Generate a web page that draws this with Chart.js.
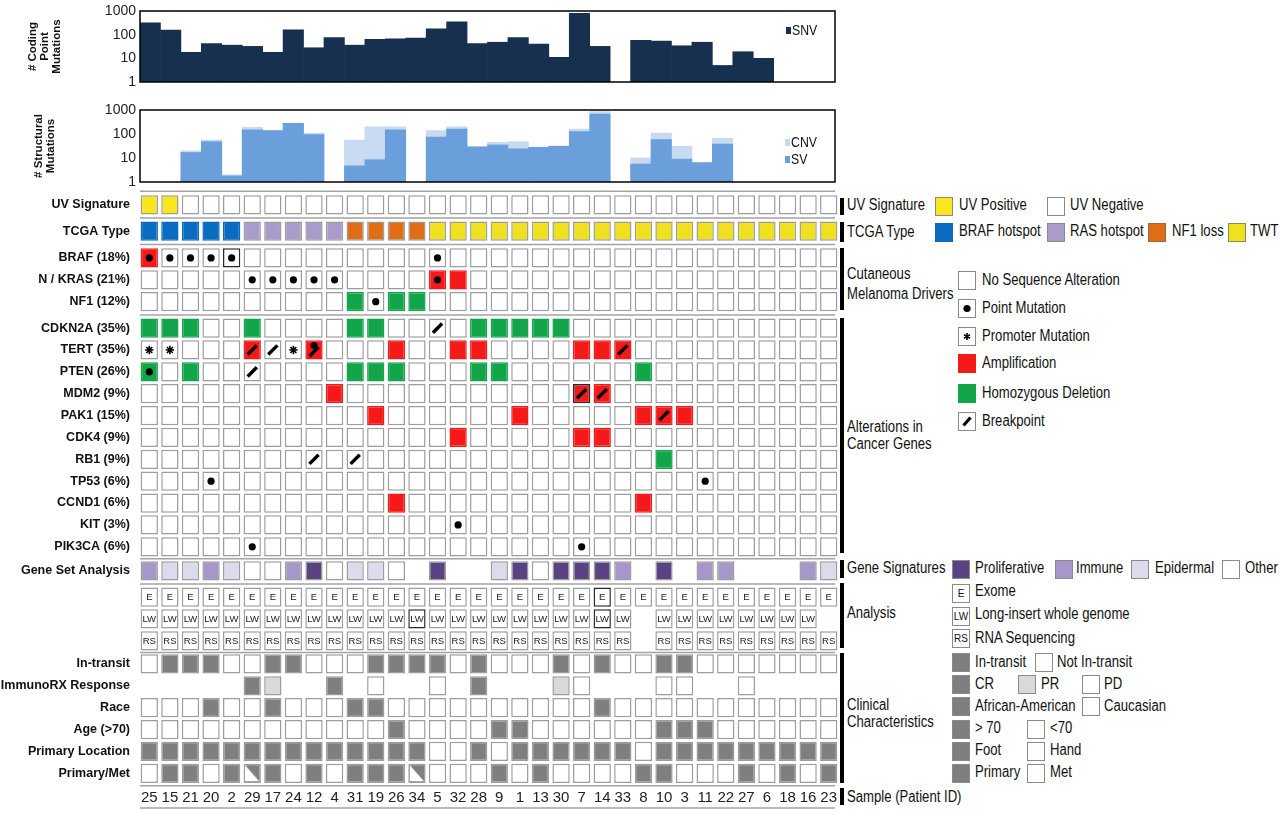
<!DOCTYPE html>
<html lang="en">
<head>
<meta charset="UTF-8" />
<title>Melanoma Genomic Landscape</title>
<script src="https://cdn.jsdelivr.net/npm/chart.js"></script>
<style>
  * { margin: 0; padding: 0; box-sizing: border-box; }
  body { width: 1280px; height: 813px; background: #fff; overflow: hidden;
    font-family: 'Liberation Sans', Arial, sans-serif; color: #111; }
  #page { position: relative; width: 1280px; height: 813px; }
  canvas { position: absolute; left: 0; }
  #snv { top: 0; }
  #sv { top: 98px; }
  #grid { top: 186px; }
  /* Arial Narrow look: regular face squeezed horizontally */
  .lg { position: absolute; font-size: 16px; line-height: 18px; white-space: nowrap;
    transform: scaleX(0.82); transform-origin: left center; }
  .vb { position: absolute; left: 840px; width: 4px; background: #000; }
  .sw { position: absolute; width: 18px; height: 19px; border: 1px solid #8a8a8a; background: #fff; }
  .sw svg { display: block; }
  .tx { position: absolute; width: 18px; height: 19px; border: 1px solid #8a8a8a; background: #fff;
    font-size: 10px; line-height: 17px; text-align: center; }
  .key { position: absolute; width: 5px; height: 7px; }
</style>
</head>
<body>
<div id="page">
  <canvas id="snv" width="840" height="92"></canvas>
  <canvas id="sv" width="840" height="94"></canvas>
  <canvas id="grid" width="840" height="627"></canvas>

  <!-- small legends inside the bar charts -->
  <div class="key" style="left:786px;top:27px;background:#17304f"></div>
  <div class="lg" style="left:792px;top:21px;font-size:15px">SNV</div>
  <div class="key" style="left:785px;top:139px;background:#c7daf2"></div>
  <div class="lg" style="left:791px;top:133px;font-size:15px">CNV</div>
  <div class="key" style="left:785px;top:156px;background:#6a9fdc"></div>
  <div class="lg" style="left:791px;top:150px;font-size:15px">SV</div>

  <!-- group bars and group labels -->
  <div class="vb" style="top:198px;height:17px"></div>
  <div class="vb" style="top:222px;height:20px"></div>
  <div class="vb" style="top:248px;height:62px"></div>
  <div class="vb" style="top:318px;height:235px"></div>
  <div class="vb" style="top:560px;height:18px"></div>
  <div class="vb" style="top:583px;height:65px"></div>
  <div class="vb" style="top:653px;height:130px"></div>
  <div class="vb" style="top:788px;height:17px"></div>

  <div class="lg" style="left:847px;top:196px">UV Signature</div>
  <div class="lg" style="left:847px;top:223px">TCGA Type</div>
  <div class="lg" style="left:847px;top:264px;line-height:20px">Cutaneous<br>Melanoma Drivers</div>
  <div class="lg" style="left:847px;top:418px;line-height:17px">Alterations in<br>Cancer Genes</div>
  <div class="lg" style="left:847px;top:559px">Gene Signatures</div>
  <div class="lg" style="left:847px;top:604px">Analysis</div>
  <div class="lg" style="left:847px;top:696px;line-height:17px">Clinical<br>Characteristics</div>
  <div class="lg" style="left:847px;top:788px">Sample (Patient ID)</div>

  <!-- UV / TCGA keys -->
  <div class="sw" style="left:935px;top:197px;background:#f7e71c"></div>
  <div class="lg" style="left:959px;top:196px">UV Positive</div>
  <div class="sw" style="left:1047px;top:197px"></div>
  <div class="lg" style="left:1070px;top:196px">UV Negative</div>
  <div class="sw" style="left:935px;top:223px;background:#0a6cc0;border-color:#0a6cc0"></div>
  <div class="lg" style="left:959px;top:222px">BRAF hotspot</div>
  <div class="sw" style="left:1047px;top:223px;background:#a99bcc"></div>
  <div class="lg" style="left:1070px;top:222px">RAS hotspot</div>
  <div class="sw" style="left:1148px;top:223px;background:#e06d14;border-color:#9a6a40"></div>
  <div class="lg" style="left:1172px;top:222px">NF1 loss</div>
  <div class="sw" style="left:1228px;top:223px;background:#f1e01d;border-color:#8a8a50"></div>
  <div class="lg" style="left:1250px;top:222px">TWT</div>

  <!-- alteration keys -->
  <div class="sw" style="left:958px;top:271px"></div>
  <div class="lg" style="left:982px;top:271px">No Sequence Alteration</div>
  <div class="sw" style="left:958px;top:299px"><svg width="16" height="17"><circle cx="8" cy="8.5" r="3.6"/></svg></div>
  <div class="lg" style="left:982px;top:299px">Point Mutation</div>
  <div class="sw" style="left:958px;top:327px"><svg width="16" height="17" stroke="#000" stroke-width="1.6"><path d="M8 5v7M5 6.7l6 3.6M5 10.3l6-3.6"/></svg></div>
  <div class="lg" style="left:982px;top:327px">Promoter Mutation</div>
  <div class="sw" style="left:958px;top:354px;background:#f41a1a;border-color:#f41a1a"></div>
  <div class="lg" style="left:982px;top:354px">Amplification</div>
  <div class="sw" style="left:958px;top:384px;background:#12a54a;border-color:#12a54a"></div>
  <div class="lg" style="left:982px;top:384px">Homozygous Deletion</div>
  <div class="sw" style="left:958px;top:412px"><svg width="16" height="17"><path d="M4.5 12.5L11.5 4.5" stroke="#000" stroke-width="3.2"/></svg></div>
  <div class="lg" style="left:982px;top:412px">Breakpoint</div>

  <!-- gene signature keys -->
  <div class="sw" style="left:952px;top:560px;background:#5a4383"></div>
  <div class="lg" style="left:975px;top:559px">Proliferative</div>
  <div class="sw" style="left:1055px;top:560px;background:#a696ca"></div>
  <div class="lg" style="left:1076px;top:559px">Immune</div>
  <div class="sw" style="left:1131px;top:560px;background:#dddaeb"></div>
  <div class="lg" style="left:1155px;top:559px">Epidermal</div>
  <div class="sw" style="left:1222px;top:560px"></div>
  <div class="lg" style="left:1245px;top:559px">Other</div>

  <!-- analysis keys -->
  <div class="tx" style="left:952px;top:584px">E</div>
  <div class="lg" style="left:975px;top:582px">Exome</div>
  <div class="tx" style="left:952px;top:607px">LW</div>
  <div class="lg" style="left:975px;top:605px">Long-insert whole genome</div>
  <div class="tx" style="left:952px;top:629px">RS</div>
  <div class="lg" style="left:975px;top:629px">RNA Sequencing</div>

  <!-- clinical keys -->
  <div class="sw" style="left:952px;top:653px;background:#7f7f7f"></div>
  <div class="lg" style="left:975px;top:653px">In-transit</div>
  <div class="sw" style="left:1035px;top:653px"></div>
  <div class="lg" style="left:1057px;top:653px">Not In-transit</div>
  <div class="sw" style="left:952px;top:675px;background:#7f7f7f"></div>
  <div class="lg" style="left:975px;top:675px">CR</div>
  <div class="sw" style="left:1018px;top:675px;background:#d9d9d9"></div>
  <div class="lg" style="left:1041px;top:675px">PR</div>
  <div class="sw" style="left:1082px;top:675px"></div>
  <div class="lg" style="left:1104px;top:675px">PD</div>
  <div class="sw" style="left:952px;top:697px;background:#7f7f7f"></div>
  <div class="lg" style="left:975px;top:697px">African-American</div>
  <div class="sw" style="left:1082px;top:697px"></div>
  <div class="lg" style="left:1104px;top:697px">Caucasian</div>
  <div class="sw" style="left:952px;top:720px;background:#7f7f7f"></div>
  <div class="lg" style="left:975px;top:719px">&gt; 70</div>
  <div class="sw" style="left:1027px;top:720px"></div>
  <div class="lg" style="left:1050px;top:719px">&lt;70</div>
  <div class="sw" style="left:952px;top:742px;background:#7f7f7f"></div>
  <div class="lg" style="left:975px;top:741px">Foot</div>
  <div class="sw" style="left:1027px;top:742px"></div>
  <div class="lg" style="left:1050px;top:741px">Hand</div>
  <div class="sw" style="left:952px;top:764px;background:#7f7f7f"></div>
  <div class="lg" style="left:975px;top:763px">Primary</div>
  <div class="sw" style="left:1027px;top:764px"></div>
  <div class="lg" style="left:1050px;top:763px">Met</div>
</div>

<script>
  const FONT = "'Liberation Sans', Arial, sans-serif";
  Chart.defaults.font.family = FONT;
  Chart.defaults.color = '#111';

  // ---- data ----
  const samples = ['25','15','21','20','2','29','17','24','12','4','31','19','26','34','5','32','28',
                   '9','1','13','30','7','14','33','8','10','3','11','22','27','6','18','16','23'];

  const snvCounts = [320,155,18,42,36,32,18,160,28,75,36,64,66,72,178,350,42,
                     48,75,40,11,800,32,null,58,54,34,48,5,19,10,null,null,null];
  const svCounts  = [null,null,17,48,1.8,150,138,280,94,null,4.7,8.5,150,null,75,160,29,
                     35,24,28,31,125,680,null,5.6,58,9,6.4,38,null,null,null,null,null];
  const cnvCounts = [null,null,20,56,2,190,140,280,110,null,56,200,200,null,140,200,30,
                     45,48,28,31,160,850,null,10,110,31,6.5,66,null,null,null,null,null];
  const logTicks = [1, 10, 100, 1000];

  const uvPositive = ['25','15'];
  const tcgaType = ['BRAF','BRAF','BRAF','BRAF','BRAF','RAS','RAS','RAS','RAS','RAS','NF1','NF1','NF1','NF1',
                    'TWT','TWT','TWT','TWT','TWT','TWT','TWT','TWT','TWT','TWT','TWT','TWT','TWT','TWT',
                    'TWT','TWT','TWT','TWT','TWT','TWT'];

  const genes = ['BRAF (18%)','N / KRAS (21%)','NF1 (12%)','CDKN2A (35%)','TERT (35%)','PTEN (26%)','MDM2 (9%)',
                 'PAK1 (15%)','CDK4 (9%)','RB1 (9%)','TP53 (6%)','CCND1 (6%)','KIT (3%)','PIK3CA (6%)'];
  const amplified = [['25'], ['5','32'], [], [], ['29','12','26','32','28','7','14','33'], [], ['4','7','14'],
                     ['19','1','8','10','3'], ['32','7','14'], [], [], ['26','8'], [], []];
  const deleted = [[], [], ['31','26','34'], ['25','15','21','29','31','19','28','9','1','13','30'],
                   [], ['25','21','31','19','26','28','9','8'], [], [], [], ['10'], [], [], [], []];
  const pointMut = [['25','15','21','20','2','5'], ['29','17','24','12','4','5'], ['19'], [], ['12'], ['25'],
                    [], [], [], [], ['20','11'], [], ['32'], ['29','7']];
  const promoterMut = [[], [], [], [], ['25','15','24'], [], [], [], [], [], [], [], [], []];
  const breakpoints = [[], [], [], ['5'], ['29','17','12','33'], ['29'], ['7','14'], ['10'], [], ['12','31'],
                       [], [], [], []];

  const signature = ['I','E','E','I','E','O','O','I','P','O','E','E','O',null,'P',null,null,
                     'E','P','O','P','P','P','I',null,'P',null,'I','I',null,null,null,'I','E'];
  const noLongInsert = ['8','23'];
  const noRnaSeq = ['8'];

  const inTransit = ['15','21','20','17','24','19','26','34','5','28','30','14','10','3'];
  const immunoCR = ['29','4','28'];
  const immunoPR = ['17','30'];
  const immunoPD = ['19','5','7','10','3','27'];
  const africanAmerican = ['20','17','31','19','14'];
  const over70 = ['26','9','1','10','3','11'];
  const handPrimary = ['5','32','9','8'];
  const primaryTumor = ['15','21','2','17','12','31','19','26','9','13','8','10','27','18','23'];
  const mixedPrimaryMet = ['29','34'];

  const rowLabels = ['UV Signature','TCGA Type', ...genes, 'Gene Set Analysis', '', '', '',
                     'In-transit','ImmunoRX Response','Race','Age (>70)','Primary Location','Primary/Met'];
  const groupSizes = [1, 1, 3, 11, 1, 3, 6];
  const groupGaps = [0.2, 0.22, 0.21, 0.1, 0.2, 0.06];

  // ---- layout helpers ----
  const rowPos = [];
  const groupEnds = [];
  let pos = 0;
  groupSizes.forEach((n, g) => {
    for (let i = 0; i < n; i++) { rowPos.push(pos); pos += 1; }
    groupEnds.push(rowPos.length - 1);
    pos += groupGaps[g] || 0;
  });

  const C = {
    uv: '#f7e71c', braf: '#0a6cc0', ras: '#a99bcc', nf1: '#e06d14', twt: '#f1e01d',
    amp: '#f41a1a', del: '#12a54a', prolif: '#5a4383', immune: '#a696ca', epi: '#dddaeb',
    grey: '#7f7f7f', light: '#d9d9d9', white: '#ffffff', edge: '#9d9d9d'
  };
  const outlined = [[2, '2'], [8, '7'], [17, '14'], [18, '34'], [18, '14']];

  function cellRow(r, colorOf, text) {
    const cols = samples.map((s, i) => colorOf(s, i));
    return {
      type: 'bar', order: 1, label: 'row' + r, cellText: text,
      data: cols.map(c => c ? [rowPos[r] - 0.44, rowPos[r] + 0.44] : null),
      backgroundColor: cols.map(c => c || C.white),
      borderColor: cols.map((c, i) => {
        if (outlined.some(o => o[0] === r && o[1] === samples[i])) return '#2a2a2a';
        return (c === C.amp || c === C.del || c === C.braf) ? c : C.edge;
      })
    };
  }

  const rows = [];
  rows.push(cellRow(0, s => uvPositive.includes(s) ? C.uv : C.white));
  rows.push(cellRow(1, (s, i) => ({ BRAF: C.braf, RAS: C.ras, NF1: C.nf1, TWT: C.twt })[tcgaType[i]]));
  genes.forEach((g, k) => rows.push(cellRow(2 + k, s =>
    amplified[k].includes(s) ? C.amp : deleted[k].includes(s) ? C.del : C.white)));
  rows.push(cellRow(16, (s, i) => signature[i] && ({ P: C.prolif, I: C.immune, E: C.epi, O: C.white })[signature[i]]));
  rows.push(cellRow(17, () => C.white, 'E'));
  rows.push(cellRow(18, s => noLongInsert.includes(s) ? null : C.white, 'LW'));
  rows.push(cellRow(19, s => noRnaSeq.includes(s) ? null : C.white, 'RS'));
  rows.push(cellRow(20, s => inTransit.includes(s) ? C.grey : C.white));
  rows.push(cellRow(21, s => immunoCR.includes(s) ? C.grey : immunoPR.includes(s) ? C.light
                             : immunoPD.includes(s) ? C.white : null));
  rows.push(cellRow(22, s => africanAmerican.includes(s) ? C.grey : C.white));
  rows.push(cellRow(23, s => over70.includes(s) ? C.grey : C.white));
  rows.push(cellRow(24, s => handPrimary.includes(s) ? C.white : C.grey));
  rows.push(cellRow(25, s => (primaryTumor.includes(s) || mixedPrimaryMet.includes(s)) ? C.grey : C.white));

  // markers on top of the cells
  const dots = [], stars = [], slashes = [], halves = [];
  genes.forEach((g, k) => {
    const y = rowPos[2 + k];
    pointMut[k].forEach(s => dots.push({ x: s, y: breakpoints[k].includes(s) ? y - 0.2 : y }));
    promoterMut[k].forEach(s => stars.push({ x: s, y }));
    breakpoints[k].forEach(s => slashes.push({ x: s, y: pointMut[k].includes(s) ? y + 0.08 : y }));
  });
  mixedPrimaryMet.forEach(s => halves.push({ x: s, y: rowPos[25] }));

  const tri = document.createElement('canvas');
  tri.width = 14; tri.height = 16;
  const tc = tri.getContext('2d');
  tc.fillStyle = '#fff';
  tc.beginPath(); tc.moveTo(0, 0); tc.lineTo(0, 16); tc.lineTo(14, 16); tc.closePath(); tc.fill();

  const markers = [
    { type: 'scatter', order: 0, label: 'dots', data: dots, pointStyle: 'circle', pointRadius: 3.6,
      pointBackgroundColor: '#000', pointBorderWidth: 0 },
    { type: 'scatter', order: 0, label: 'stars', data: stars, pointStyle: 'star', pointRadius: 4.2,
      pointBorderColor: '#000', pointBorderWidth: 1.6 },
    { type: 'scatter', order: 0, label: 'slashes', data: slashes, pointStyle: 'line', pointRadius: 6.5,
      pointRotation: -45, pointBorderColor: '#000', pointBorderWidth: 3.4 },
    { type: 'scatter', order: 0, label: 'halves', data: halves, pointStyle: tri, pointRadius: 8 }
  ];

  // ---- plugins ----
  const framePlugin = {
    id: 'frame',
    afterDatasetsDraw(chart) {
      const a = chart.chartArea, ctx = chart.ctx;
      ctx.save(); ctx.strokeStyle = '#000'; ctx.lineWidth = 1.5;
      ctx.strokeRect(a.left, a.top, a.right - a.left, a.bottom - a.top);
      ctx.restore();
    }
  };

  const cellTextPlugin = {
    id: 'cellText',
    afterDatasetsDraw(chart) {
      const ctx = chart.ctx;
      chart.data.datasets.forEach((ds, i) => {
        if (!ds.cellText) return;
        const meta = chart.getDatasetMeta(i);
        ctx.save();
        ctx.font = '9.5px ' + FONT; ctx.fillStyle = '#222';
        ctx.textAlign = 'center'; ctx.textBaseline = 'middle';
        meta.data.forEach((el, j) => {
          if (ds.data[j] == null) return;
          ctx.fillText(ds.cellText, el.x, (el.y + el.base) / 2 + 0.5);
        });
        ctx.restore();
      });
    }
  };

  const separatorPlugin = {
    id: 'separators',
    beforeDatasetsDraw(chart) {
      const ys = chart.scales.y, a = chart.chartArea, ctx = chart.ctx;
      const lines = [ys.getPixelForValue(rowPos[0] - 0.63)];
      groupEnds.forEach((e, g) => {
        if (g < groupEnds.length - 1) lines.push(ys.getPixelForValue((rowPos[e] + rowPos[e + 1]) / 2));
      });
      lines.push(ys.getPixelForValue(rowPos[rowPos.length - 1] + 0.57));
      lines.push(a.bottom + 22);
      ctx.save(); ctx.strokeStyle = '#a3a3a3'; ctx.lineWidth = 1.5;
      lines.forEach(y => { ctx.beginPath(); ctx.moveTo(a.left + 1, y); ctx.lineTo(a.right - 4, y); ctx.stroke(); });
      ctx.restore();
    }
  };

  function countChart(id, datasets, title, titlePad, padTop) {
    return new Chart(document.getElementById(id), {
      type: 'bar',
      data: { labels: samples, datasets },
      options: {
        responsive: false, animation: false, events: [],
        layout: { autoPadding: false, padding: { top: padTop, right: 5, bottom: 10, left: 0 } },
        datasets: { bar: { categoryPercentage: 1, barPercentage: 1, grouped: false, borderWidth: 0 } },
        plugins: { legend: { display: false }, tooltip: { enabled: false } },
        scales: {
          x: { display: false },
          y: {
            type: 'logarithmic', min: 1, max: 1000,
            afterBuildTicks: s => { s.ticks = logTicks.map(v => ({ value: v })); },
            afterFit: s => { s.width = 140; s.paddingTop = 0; s.paddingBottom = 0; },
            grid: { display: false, drawTicks: false },
            border: { display: false },
            ticks: { callback: v => String(v), font: { size: 14 }, color: '#222', padding: 4 },
            title: { display: true, text: title, font: { size: 11.5, weight: 'bold', lineHeight: 1.05 },
                     color: '#111', padding: { top: titlePad } }
          }
        }
      },
      plugins: [framePlugin]
    });
  }

  countChart('snv', [
    { label: 'SNV', data: snvCounts, backgroundColor: '#17304f' }
  ], ['# Coding', 'Point', 'Mutations'], 27, 11);

  countChart('sv', [
    { label: 'SV', data: svCounts, backgroundColor: '#6a9fdc', order: 0 },
    { label: 'CNV', data: cnvCounts, backgroundColor: '#c7daf2', order: 1 }
  ], ['# Structural', 'Mutations'], 33, 12);

  new Chart(document.getElementById('grid'), {
    type: 'bar',
    data: { labels: samples, datasets: [...rows, ...markers] },
    options: {
      responsive: false, animation: false, events: [],
      layout: { autoPadding: false, padding: { top: 5, right: 1, bottom: 0, left: 0 } },
      datasets: {
        bar: { categoryPercentage: 1, barPercentage: 0.84, grouped: false, borderWidth: 1.5, borderSkipped: false }
      },
      plugins: { legend: { display: false }, tooltip: { enabled: false } },
      scales: {
        x: {
          type: 'category', position: 'bottom',
          afterFit: s => { s.height = 27; s.paddingLeft = 0; s.paddingRight = 0; },
          grid: { display: false, drawTicks: false }, border: { display: false },
          ticks: { font: { size: 15 }, color: '#222', padding: 3, maxRotation: 0, autoSkip: false }
        },
        y: {
          type: 'linear', reverse: true, min: -0.64, max: rowPos[rowPos.length - 1] + 0.58,
          afterBuildTicks: s => { s.ticks = rowPos.map(v => ({ value: v })); },
          afterFit: s => { s.width = 139; s.paddingTop = 0; s.paddingBottom = 0; },
          grid: { display: false, drawTicks: false }, border: { display: false },
          ticks: { callback: (v, i) => rowLabels[i], font: { size: 12.5, weight: 'bold' },
                   color: '#111', padding: 9, autoSkip: false }
        }
      }
    },
    plugins: [separatorPlugin, cellTextPlugin]
  });
</script>
</body>
</html>
